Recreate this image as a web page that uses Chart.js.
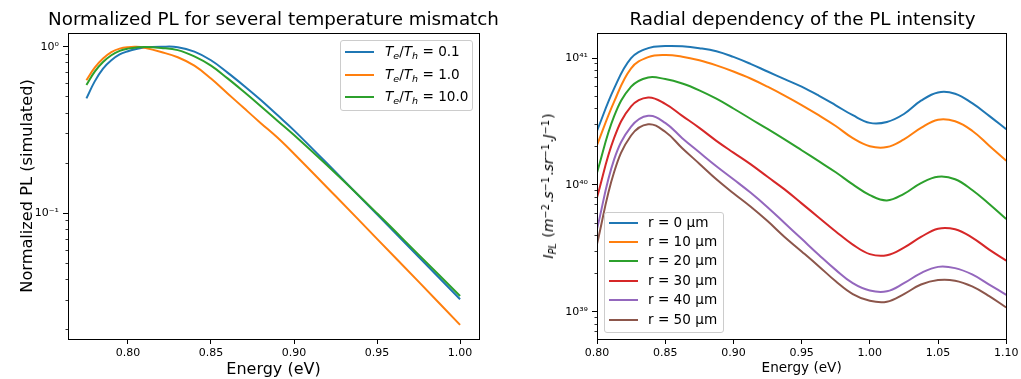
<!DOCTYPE html>
<html><head><meta charset="utf-8">
<script src="https://cdn.jsdelivr.net/npm/chart.js@4.4.1/dist/chart.umd.min.js"></script>
<style>
html,body{margin:0;padding:0;background:#fff;}
body{width:1021px;height:379px;position:relative;overflow:hidden;font-family:'DejaVu Sans',sans-serif;color:#000;}
canvas{position:absolute;top:0;}
#c1{left:0;}
#c2{left:510px;}
.title{position:absolute;top:9.5px;white-space:nowrap;font-size:18.3px;line-height:1;transform:translateX(-50%);}
#t1{left:273.5px;}
#t2{left:802.5px;}
.legend{position:absolute;background:rgba(255,255,255,0.8);border:1px solid #cccccc;border-radius:3px;box-sizing:border-box;}
.ln{position:absolute;height:2px;width:29px;}
.tx{position:absolute;white-space:nowrap;font-size:13.6px;line-height:1;transform:translateY(-50%);}
.tx sub{font-size:70%;vertical-align:-0.3em;line-height:0;}
#ylab2{position:absolute;left:548px;top:186px;white-space:nowrap;font-size:14px;line-height:1;transform:translate(-50%,-50%) rotate(-90deg);}
#ylab2 sub{font-size:70%;vertical-align:-0.3em;line-height:0;margin-right:1px;}
#ylab2 sup{font-size:70%;vertical-align:0.45em;line-height:0;margin-right:1px;}
</style>
</head><body>
<canvas id="c1" width="510" height="379"></canvas>
<canvas id="c2" width="511" height="379"></canvas>
<div class="title" id="t1">Normalized PL for several temperature mismatch</div>
<div class="title" id="t2">Radial dependency of the PL intensity</div>
<div id="ylab2"><i>I</i><sub><i>PL</i></sub> (<i>m</i><sup>−2</sup>.<i>s</i><sup>−1</sup>.<i>sr</i><sup>−1</sup>.<i>J</i><sup>−1</sup>)</div>
<script>
// ---------- Left chart data ----------
const leftEnergy = [0.775,0.780,0.785,0.790,0.795,0.800,0.805,0.810,0.820,0.830,0.840,0.850,0.860,0.870,0.880,0.890,0.900,0.925,0.950,0.975,1.000];
const plRatio01  = [0.49,0.62,0.74,0.83,0.90,0.94,0.97,0.99,1.0,0.995,0.935,0.83,0.70,0.582,0.479,0.389,0.315,0.177,0.0986,0.0549,0.0305];
const plRatio1   = [0.63,0.75,0.85,0.93,0.975,0.995,1.0,0.985,0.93,0.865,0.77,0.645,0.525,0.427,0.348,0.285,0.228,0.127,0.0703,0.0389,0.0214];
const plRatio10  = [0.59,0.71,0.81,0.89,0.945,0.975,0.99,0.998,0.985,0.955,0.875,0.77,0.646,0.535,0.44,0.36,0.295,0.174,0.100,0.0565,0.0319];
const leftLabels = [
  '<i>T</i><sub><i>e</i></sub>/<i>T</i><sub><i>h</i></sub> = 0.1',
  '<i>T</i><sub><i>e</i></sub>/<i>T</i><sub><i>h</i></sub> = 1.0',
  '<i>T</i><sub><i>e</i></sub>/<i>T</i><sub><i>h</i></sub> = 10.0'
];
const leftXTicks = [0.80,0.85,0.90,0.95,1.00];
const leftYTicks = [0.1,1];
const leftYTickLabels = ['10⁻¹','10⁰'];
const leftYMinor = [0.02,0.03,0.04,0.05,0.06,0.07,0.08,0.09,0.2,0.3,0.4,0.5,0.6,0.7,0.8,0.9];

// ---------- Right chart data ----------
const rightEnergy = [0.800,0.8125,0.825,0.8375,0.850,0.8625,0.875,0.8875,0.900,0.9125,0.925,0.9375,0.950,0.9625,0.975,0.9875,1.000,1.0125,1.025,1.0375,1.050,1.0625,1.075,1.0875,1.100];
const r0  = [2.67e40,5.75e40,1.00e41,1.20e41,1.245e41,1.24e41,1.20e41,1.135e41,1.023e41,9.02e40,7.85e40,6.84e40,5.96e40,5.07e40,4.25e40,3.55e40,3.09e40,3.14e40,3.63e40,4.62e40,5.37e40,5.25e40,4.42e40,3.51e40,2.75e40];
const r10 = [2.06e40,4.52e40,8.32e40,1.02e41,1.06e41,1.028e41,9.62e40,8.77e40,7.85e40,6.92e40,5.96e40,5.07e40,4.27e40,3.55e40,2.92e40,2.34e40,2.02e40,1.99e40,2.29e40,2.82e40,3.27e40,3.18e40,2.68e40,2.04e40,1.55e40];
const r20 = [1.25e40,3.47e40,5.96e40,7.05e40,6.84e40,6.31e40,5.58e40,4.79e40,4.01e40,3.33e40,2.77e40,2.29e40,1.88e40,1.54e40,1.26e40,1.01e40,8.32e39,7.55e39,8.51e39,1.035e40,1.16e40,1.11e40,9.12e39,7.08e39,5.38e39];
const r30 = [7.98e39,2.34e40,4.17e40,4.90e40,4.37e40,3.51e40,2.82e40,2.23e40,1.80e40,1.46e40,1.16e40,9.23e39,7.16e39,5.55e39,4.30e39,3.39e39,2.85e39,2.79e39,3.20e39,3.89e39,4.52e39,4.47e39,3.85e39,3.09e39,2.53e39];
const r40 = [4.49e39,1.585e40,2.88e40,3.51e40,3.09e40,2.34e40,1.81e40,1.406e40,1.109e40,8.71e39,6.68e39,5.01e39,3.76e39,2.82e39,2.14e39,1.68e39,1.47e39,1.45e39,1.68e39,2.02e39,2.26e39,2.21e39,1.97e39,1.64e39,1.36e39];
const r50 = [3.42e39,1.26e40,2.455e40,3.01e40,2.63e40,1.95e40,1.472e40,1.109e40,8.61e39,6.76e39,5.19e39,3.89e39,2.99e39,2.29e39,1.74e39,1.38e39,1.22e39,1.20e39,1.38e39,1.64e39,1.78e39,1.76e39,1.585e39,1.33e39,1.08e39];
const rightLabels = ['r = 0 µm','r = 10 µm','r = 20 µm','r = 30 µm','r = 40 µm','r = 50 µm'];
const rightXTicks = [0.80,0.85,0.90,0.95,1.00,1.05,1.10];
const rightYTicks = [1e39,1e40,1e41];
const rightYTickLabels = ['10³⁹','10⁴⁰','10⁴¹'];
const rightYMinor = [7e38,8e38,9e38,2e39,3e39,4e39,5e39,6e39,7e39,8e39,9e39,2e40,3e40,4e40,5e40,6e40,7e40,8e40,9e40];

const COLORS = ['#1f77b4','#ff7f0e','#2ca02c','#d62728','#9467bd','#8c564b'];
const FONT = "'DejaVu Sans', sans-serif";

const frameAndMinor = {
  id: 'frameAndMinor',
  afterDatasetsDraw(chart, args, opts) {
    const {ctx, chartArea: a} = chart;
    const al = p => Math.round(p - 0.5) + 0.5;
    ctx.save();
    ctx.strokeStyle = '#000';
    ctx.lineWidth = 1;
    const L = al(a.left), R = al(a.right), T = al(a.top), B = al(a.bottom);
    ctx.strokeRect(L, T, R - L, B - T);
    const ys = chart.scales.y;
    ctx.lineWidth = 0.8;
    ctx.beginPath();
    for (const v of opts.minor) {
      const p = ys.getPixelForValue(v);
      if (p < a.top || p > a.bottom) continue;
      const py = al(p);
      ctx.moveTo(L - 3, py); ctx.lineTo(L, py);
    }
    ctx.stroke();
    ctx.restore();
  }
};

function pts(xs, ys) { return xs.map((x, i) => ({x: x, y: ys[i]})); }

function makeConfig(o) {
  return {
    type: 'line',
    data: {
      datasets: o.series.map((s, i) => ({
        label: 's' + i,
        data: pts(o.energy, s),
        borderColor: COLORS[i],
        backgroundColor: COLORS[i],
        borderWidth: 2,
        pointRadius: 0,
        fill: false,
        tension: 0.4,
        order: o.series.length - i
      }))
    },
    options: {
      responsive: false,
      devicePixelRatio: 1,
      animation: false,
      events: [],
      layout: {padding: {left: 0, right: o.padRight, top: 33, bottom: 0}},
      plugins: {
        legend: {display: false},
        tooltip: {enabled: false},
        title: {display: false},
        frameAndMinor: {minor: o.yMinor}
      },
      scales: {
        x: {
          type: 'linear', min: o.xMin, max: o.xMax,
          afterBuildTicks: s => { s.ticks = o.xTicks.map(v => ({value: v})); },
          afterFit: s => { s.height = 40; },
          ticks: {callback: v => Number(v).toFixed(2), color: '#000', font: {family: FONT, size: 11},
            padding: 2.5, maxRotation: 0, autoSkip: false},
          grid: {drawOnChartArea: false, drawTicks: true, tickLength: 5, color: '#000', lineWidth: 1},
          border: {display: false},
          title: {display: true, text: 'Energy (eV)', color: '#000',
            font: {family: FONT, size: o.xTitleSize}, padding: {top: 0, bottom: o.xTitlePad}}
        },
        y: {
          type: 'logarithmic', min: o.yMin, max: o.yMax,
          afterBuildTicks: s => { s.ticks = o.yTicks.map(v => ({value: v, major: true})); },
          afterFit: s => { s.width = o.yWidth; },
          ticks: {
            callback: v => {
              const i = o.yTicks.findIndex(t => Math.abs(t - v) / t < 1e-6);
              return i >= 0 ? o.yTickLabels[i] : '';
            },
            color: '#000', font: {family: FONT, size: 11}, padding: 4, autoSkip: false
          },
          grid: {drawOnChartArea: false, drawTicks: true, tickLength: 5, color: '#000', lineWidth: 1},
          border: {display: false},
          title: o.yTitle ? {display: true, text: o.yTitle, color: '#000',
            font: {family: FONT, size: 16.2}, padding: {top: 18, bottom: 0}} : {display: false}
        }
      }
    },
    plugins: [frameAndMinor]
  };
}

new Chart(document.getElementById('c1'), makeConfig({
  energy: leftEnergy, series: [plRatio01, plRatio1, plRatio10],
  padRight: 31, xMin: 0.7639, xMax: 1.0114, xTicks: leftXTicks,
  yMin: 0.0176, yMax: 1.21, yTicks: leftYTicks, yTickLabels: leftYTickLabels, yMinor: leftYMinor,
  yWidth: 68, yTitle: 'Normalized PL (simulated)', xTitleSize: 16, xTitlePad: 0
}));

new Chart(document.getElementById('c2'), makeConfig({
  energy: rightEnergy, series: [r0, r10, r20, r30, r40, r50],
  padRight: 13, xMin: 0.80, xMax: 1.10, xTicks: rightXTicks,
  yMin: 6.1e38, yMax: 1.58e41, yTicks: rightYTicks, yTickLabels: rightYTickLabels, yMinor: rightYMinor,
  yWidth: 87, yTitle: null, xTitleSize: 13.6, xTitlePad: 2.4
}));

function buildLegend(o) {
  const box = document.createElement('div');
  box.className = 'legend';
  box.style.left = o.left + 'px'; box.style.top = o.top + 'px';
  box.style.width = o.width + 'px'; box.style.height = o.height + 'px';
  document.body.appendChild(box);
  o.labels.forEach((lab, i) => {
    const y = o.firstRow + i * o.rowStep - o.top - 1;
    const ln = document.createElement('div');
    ln.className = 'ln';
    ln.style.background = COLORS[i];
    ln.style.left = (o.lineX - o.left - 1) + 'px';
    ln.style.top = (y - 1) + 'px';
    box.appendChild(ln);
    const tx = document.createElement('div');
    tx.className = 'tx';
    tx.innerHTML = lab;
    tx.style.left = (o.textX - o.left - 1) + 'px';
    tx.style.top = y + 'px';
    box.appendChild(tx);
  });
}
buildLegend({labels: leftLabels, left: 340, top: 40, width: 133, height: 71, firstRow: 52.3, rowStep: 22.2, lineX: 344.5, textX: 385});
buildLegend({labels: rightLabels, left: 604, top: 212, width: 120, height: 120.5, firstRow: 222.5, rowStep: 19.4, lineX: 609, textX: 648});
</script>
</body></html>
